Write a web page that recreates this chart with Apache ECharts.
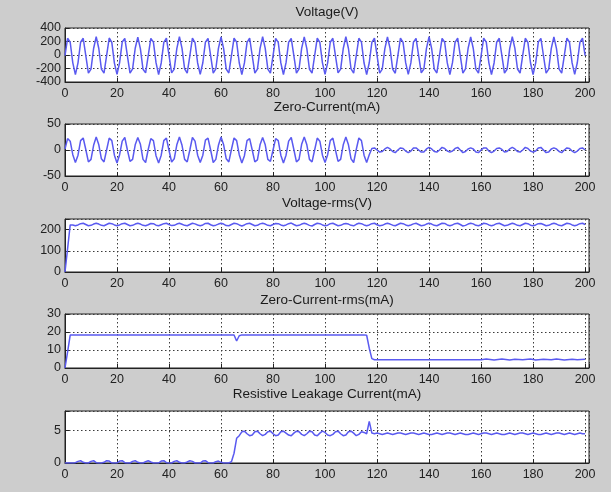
<!DOCTYPE html>
<html>
<head>
<meta charset="utf-8">
<script src="https://cdn.jsdelivr.net/npm/echarts@6/dist/echarts.min.js"></script>
<style>
  html, body { margin: 0; padding: 0; background: #cdcdcd; }
  #chart { width: 611px; height: 492px; }
</style>
</head>
<body>
<div id="chart"></div>
<script>
// five stacked panels, x = sample index 0..200

const titles = ['Voltage(V)', 'Zero-Current(mA)', 'Voltage-rms(V)', 'Zero-Current-rms(mA)', 'Resistive Leakage Current(mA)']

const voltage = [
  -10, 248, 189, -116, -290, -116, 189, 248, -10, -268, -209, 96, 270, 96, -209, -268,
  -8, 252, 186, -120, -286, -112, 192, 245, -12, -270, -205, 100, 266, 92, -212, -265,
  -10, 246, 190, -114, -292, -118, 187, 250, -6, -264, -210, 94, 272, 98, -206, -270,
  -12, 250, 185, -118, -288, -115, 190, 246, -10, -268, -207, 97, 268, 95, -210, -266,
  -9, 249, 191, -115, -291, -117, 188, 249, -11, -267, -208, 95, 271, 97, -208, -269,
  -10, 247, 188, -117, -289, -114, 191, 247, -9, -269, -206, 98, 269, 94, -211, -267,
  -11, 251, 187, -116, -287, -116, 189, 248, -10, -266, -209, 96, 270, 96, -207, -268,
  -10, 248, 190, -119, -290, -115, 188, 250, -8, -268, -210, 95, 267, 97, -209, -270,
  -9, 250, 188, -114, -288, -117, 190, 247, -12, -265, -208, 99, 271, 93, -210, -266,
  -10, 246, 189, -117, -292, -113, 187, 251, -10, -269, -206, 96, 268, 96, -208, -268,
  -11, 249, 191, -116, -289, -118, 189, 248, -9, -267, -211, 94, 270, 98, -207, -267,
  -10, 248, 187, -115, -291, -116, 190, 246, -11, -268, -208, 97, 269, 95, -209, -269,
  -10, 250, 189, -117, -288, -115, 188, 249, -10
]

const zeroCurrent = [
  2, 22, 17, -9, -24, -10, 18, 23, 1, -23, -18, 9, 25, 10, -17, -23,
  0, 23, 18, -10, -25, -9, 17, 24, 0, -22, -18, 10, 24, 11, -18, -24,
  1, 22, 18, -11, -25, -10, 18, 23, -1, -23, -17, 10, 25, 9, -18, -23,
  0, 24, 17, -10, -24, -10, 19, 23, 0, -24, -18, 9, 25, 10, -17, -23,
  1, 23, 18, -9, -25, -11, 18, 22, 0, -23, -19, 10, 24, 10, -18, -22,
  0, 22, 18, -10, -25, -10, 17, 24, 1, -23, -18, 11, 25, 10, -18, -23,
  0, 23, 17, -10, -24, -9, 18, 23, 0, -22, -18, 10, 25, 10, -17, -24,
  1, 23, 18, -10, -24, -9, 3, 4, 0, -4, -3, 2, 5, 2, -3, -5,
  0, 4, 3, -2, -5, -2, 4, 4, 0, -4, -4, 2, 5, 2, -3, -4,
  0, 5, 3, -2, -4, -2, 3, 5, 0, -5, -3, 2, 4, 2, -4, -5,
  0, 4, 4, -2, -5, -2, 3, 4, 1, -4, -3, 2, 5, 2, -3, -4,
  0, 5, 3, -2, -4, -2, 4, 5, 0, -5, -4, 2, 4, 2, -3, -5,
  0, 4, 3, -2, -5, -2, 3, 4, 0
]

const voltageRms = [
  0, 110, 222, 222, 218, 222, 228, 230, 224, 218, 220, 226, 230, 226, 220, 218,
  224, 230, 228, 222, 218, 222, 228, 230, 224, 218, 220, 226, 230, 226, 220, 218,
  223, 229, 228, 221, 218, 223, 228, 230, 224, 219, 220, 226, 230, 225, 220, 218,
  224, 230, 227, 222, 218, 222, 229, 230, 223, 218, 221, 226, 230, 226, 219, 218,
  224, 230, 228, 222, 217, 222, 228, 230, 224, 218, 220, 227, 230, 226, 220, 218,
  224, 229, 228, 222, 218, 222, 228, 231, 224, 218, 220, 226, 230, 226, 220, 217,
  224, 230, 228, 222, 218, 221, 228, 230, 224, 218, 220, 226, 229, 226, 220, 218,
  225, 230, 228, 222, 218, 222, 228, 230, 223, 218, 220, 226, 230, 226, 221, 218,
  224, 230, 228, 222, 218, 222, 227, 230, 224, 218, 220, 226, 230, 226, 220, 218,
  224, 230, 229, 222, 218, 222, 228, 230, 224, 217, 220, 226, 230, 227, 220, 218,
  223, 230, 228, 222, 218, 222, 228, 230, 224, 218, 220, 225, 230, 226, 220, 218,
  224, 230, 228, 221, 218, 222, 228, 229, 224, 218, 220, 226, 230, 226, 220, 218,
  224, 230, 228, 222, 218, 222, 228, 230, 224
]

// piecewise, so only the corners are listed
const zcRmsX = [0, 1, 2, 10, 20, 30, 40, 50, 60, 65, 66, 67, 68, 80, 100, 115, 116, 117, 118, 119, 130, 150, 160,
  162, 165, 168, 171, 173, 176, 179, 181, 184, 187, 189, 192, 195, 197, 200]
const zcRms = [0, 9, 18.3, 18.4, 18.3, 18.4, 18.3, 18.4, 18.3, 18.3, 15, 17.9, 18.4, 18.4, 18.3, 18.4, 18.2, 11, 5.2, 4.6, 4.6, 4.6, 4.6,
  5.0, 4.5, 5.0, 4.5, 4.9, 4.6, 5.0, 4.5, 4.9, 4.6, 5.0, 4.5, 4.9, 4.6, 4.8]

const resistive = [
  0, 0, 0, 0, 0.05, 0.25, 0.35, 0.1, 0, 0, 0.25, 0.35, 0.05, 0, 0, 0.1,
  0.35, 0.3, 0, 0, 0, 0.3, 0.35, 0.05, 0, 0, 0.25, 0.35, 0.1, 0, 0, 0.2,
  0.35, 0.15, 0, 0, 0, 0.3, 0.35, 0.05, 0, 0, 0.25, 0.35, 0.1, 0, 0, 0.15,
  0.35, 0.25, 0, 0, 0, 0.3, 0.35, 0.05, 0, 0, 0.2, 0.3, 0.1, 0, 0, 0,
  0.2, 1.5, 3.8, 4.2, 4.8, 4.9, 4.5, 4.2, 4.3, 4.8, 4.9, 4.5,
  4.2, 4.4, 4.8, 4.9, 4.5, 4.2, 4.3, 4.8, 4.9, 4.6, 4.3, 4.2, 4.6, 4.9, 4.8, 4.4,
  4.2, 4.5, 4.9, 4.8, 4.3, 4.2, 4.6, 4.9, 4.7, 4.3, 4.2, 4.4, 4.8, 4.9, 4.5, 4.2,
  4.3, 4.8, 4.9, 4.6, 4.2, 4.4, 4.8, 4.7, 4.5,
  6.4, 4.6,
  4.5, 4.6, 4.5, 4.4, 4.5, 4.6, 4.5, 4.4, 4.5, 4.6,
  4.6, 4.5, 4.4, 4.5, 4.6, 4.6, 4.5, 4.4, 4.5, 4.6,
  4.5, 4.4, 4.4, 4.5, 4.6, 4.5, 4.4, 4.5, 4.6, 4.6,
  4.5, 4.4, 4.5, 4.6, 4.5, 4.4, 4.4, 4.5, 4.6, 4.5,
  4.4, 4.5, 4.6, 4.6, 4.5, 4.4, 4.5, 4.6, 4.5, 4.4,
  4.4, 4.5, 4.6, 4.5, 4.4, 4.5, 4.6, 4.6, 4.5, 4.4,
  4.5, 4.6, 4.5, 4.4, 4.4, 4.5, 4.6, 4.5, 4.4, 4.5,
  4.6, 4.6, 4.5, 4.4, 4.5, 4.6, 4.5, 4.4, 4.5, 4.6,
  4.5, 4.5
]

// y axis ranges per panel: [min, max, interval]
const yRanges = [[-400, 400, 200], [-50, 50, 50], [0, 250, 100], [0, 30, 10], [0, 8, 5]]
const xMax = 201.5

const chart = echarts.init(document.getElementById('chart'))

const tops = [28, 124, 219, 314, 411]
const heights = [54, 52, 53, 54, 52]
const titleTops = [5, 100, 196, 293, 387]
const font = 'Liberation Sans, Arial, sans-serif'
const lineColor = '#5a5af0'

const pairs = (ys, xs) => ys.map((v, i) => [xs ? xs[i] : i, v])
const seriesData = [pairs(voltage), pairs(zeroCurrent), pairs(voltageRms), pairs(zcRms, zcRmsX), pairs(resistive)]

const dotted = { show: true, lineStyle: { color: '#3a3a3a', type: [1.5, 2.5], width: 1 } }

const option = {
  backgroundColor: '#cdcdcd',
  animation: false,
  title: titles.map((t, i) => ({
    text: t,
    left: 327,
    textAlign: 'center',
    top: titleTops[i],
    padding: 0,
    textStyle: { fontFamily: font, fontSize: 13.5, fontWeight: 'normal', color: '#1a1a1a' }
  })),
  grid: tops.map((t, i) => ({
    left: 65,
    right: 22,
    top: t,
    height: heights[i],
    show: true,
    backgroundColor: '#fff',
    borderColor: '#222',
    borderWidth: 1
  })),
  xAxis: tops.map((t, i) => ({
    type: 'value',
    gridIndex: i,
    min: 0,
    max: xMax,
    interval: 20,
    axisLine: { show: true, onZero: false, lineStyle: { color: '#222' } },
    axisTick: { inside: true, length: 4, lineStyle: { color: '#222' } },
    axisLabel: {
      margin: 5,
      fontFamily: font,
      fontSize: 12.5,
      color: '#222',
      formatter: v => (v % 20 === 0 ? String(v) : '')
    },
    splitLine: dotted
  })),
  yAxis: yRanges.map((r, i) => ({
    type: 'value',
    gridIndex: i,
    min: r[0],
    max: r[1],
    interval: r[2],
    axisLine: { show: true, lineStyle: { color: '#222' } },
    axisTick: { show: true, inside: true, length: 4, lineStyle: { color: '#222' } },
    axisLabel: {
      margin: 4,
      fontFamily: font,
      fontSize: 12.5,
      color: '#222',
      formatter: v => (v % r[2] === 0 ? String(v) : '')
    },
    splitLine: dotted
  })),
  series: seriesData.map((d, i) => ({
    type: 'line',
    xAxisIndex: i,
    yAxisIndex: i,
    data: d,
    showSymbol: false,
    lineStyle: { color: lineColor, width: 1.5 },
    z: 5
  }))
}

chart.setOption(option)
</script>
</body>
</html>
